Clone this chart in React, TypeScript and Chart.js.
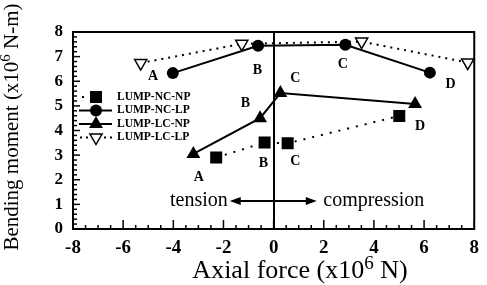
import React, { useEffect, useRef } from 'react';
import { Chart, registerables } from 'chart.js';

Chart.register(...registerables);

// ---- data ----
const seriesNames = ['LUMP-NC-NP', 'LUMP-NC-LP', 'LUMP-LC-NP', 'LUMP-LC-LP'];
const ncNpForce = [-2.29, -0.36, 0.56, 5.01];
const ncNpMoment = [2.9, 3.51, 3.48, 4.59];
const ncLpForce = [-4.02, -0.62, 2.86, 6.23];
const ncLpMoment = [6.33, 7.44, 7.48, 6.35];
const lcNpForce = [-3.2, -0.54, 0.27, 5.64];
const lcNpMoment = [3.05, 4.5, 5.52, 5.08];
const lcLpForce = [-5.3, -1.27, 3.51, 7.74];
const lcLpMoment = [6.74, 7.52, 7.61, 6.76];

// point letters (text annotations, data coordinates)
const letterText = ['A', 'B', 'C', 'D', 'A', 'B', 'C', 'D', 'B', 'C'];
const letterForce = [-4.81, -0.65, 2.76, 7.06, -2.98, -1.12, 0.86, 5.84, -0.41, 0.86];
const letterMoment = [6.2, 6.45, 6.7, 5.88, 2.08, 5.1, 6.1, 4.18, 2.65, 2.75];

// tension / compression annotation (data coordinates)
const tensionLabel = 'tension';
const compressionLabel = 'compression';
const arrowFrom = -1.75;
const arrowTo = 1.72;
const arrowMoment = 1.14;
const tensionEnd = -1.83;
const compressionStart = 1.98;

// axis titles (base text, superscript, rest)
const xTitleParts = ['Axial force (x10', '6', ' N)'];
const yTitleParts = ['Bending moment (x10', '6', ' N-m)'];

const SERIF = '"Liberation Serif", "Times New Roman", serif';

function toPts(xs: number[], ys: number[]) {
  return xs.map((x, i) => ({ x, y: ys[i] }));
}

function drawSupTitle(ctx: CanvasRenderingContext2D, parts: string[], size: number, cx: number, baseY: number) {
  const supSize = Math.round(size * 0.72);
  ctx.font = size + 'px ' + SERIF;
  const w0 = ctx.measureText(parts[0]).width;
  const w2 = ctx.measureText(parts[2]).width;
  ctx.font = supSize + 'px ' + SERIF;
  const w1 = ctx.measureText(parts[1]).width;
  const total = w0 + w1 + w2;
  let x = cx - total / 2;
  ctx.textAlign = 'left';
  ctx.textBaseline = 'alphabetic';
  ctx.font = size + 'px ' + SERIF;
  ctx.fillText(parts[0], x, baseY);
  x += w0;
  ctx.font = supSize + 'px ' + SERIF;
  ctx.fillText(parts[1], x, baseY - size * 0.36);
  x += w1;
  ctx.font = size + 'px ' + SERIF;
  ctx.fillText(parts[2], x, baseY);
}

function drawMarker(ctx: CanvasRenderingContext2D, kind: string, x: number, y: number) {
  ctx.save();
  ctx.setLineDash([]);
  ctx.lineWidth = 1.5;
  ctx.strokeStyle = '#000';
  ctx.fillStyle = '#000';
  ctx.beginPath();
  if (kind === 'rect') {
    ctx.rect(x - 6, y - 6, 12, 12);
    ctx.fill();
  } else if (kind === 'circle') {
    ctx.arc(x, y, 6, 0, Math.PI * 2);
    ctx.fill();
  } else if (kind === 'triangle') {
    const r = 8;
    ctx.moveTo(x, y - r);
    ctx.lineTo(x + r * 0.866, y + r * 0.5);
    ctx.lineTo(x - r * 0.866, y + r * 0.5);
    ctx.closePath();
    ctx.fill();
  } else {
    const r = 7;
    ctx.fillStyle = '#fff';
    ctx.moveTo(x, y + r);
    ctx.lineTo(x + r * 0.866, y - r * 0.5);
    ctx.lineTo(x - r * 0.866, y - r * 0.5);
    ctx.closePath();
    ctx.fill();
    ctx.stroke();
  }
  ctx.restore();
}

const decorPlugin = {
  id: 'decor',
  afterDraw(chart: any) {
    const ctx: CanvasRenderingContext2D = chart.ctx;
    const { left, right, top, bottom } = chart.chartArea;
    const xs = chart.scales.x;
    const ys = chart.scales.y;
    ctx.save();
    // frame
    ctx.strokeStyle = '#000';
    ctx.lineWidth = 2;
    ctx.strokeRect(left, top, right - left, bottom - top);

    // inward ticks on x axis
    ctx.lineWidth = 1.5;
    for (let v = -8; v <= 8.001; v += 0.5) {
      const px = xs.getPixelForValue(v);
      const major = Math.abs(v / 2 - Math.round(v / 2)) < 1e-6;
      ctx.beginPath();
      ctx.moveTo(px, bottom);
      ctx.lineTo(px, bottom - (major ? 9 : 4));
      ctx.stroke();
    }
    // inward ticks on y axis
    for (let v = 0; v <= 8.001; v += 0.2) {
      const py = ys.getPixelForValue(v);
      const major = Math.abs(v - Math.round(v)) < 1e-6;
      ctx.beginPath();
      ctx.moveTo(left, py);
      ctx.lineTo(left + (major ? 7 : 4), py);
      ctx.stroke();
    }

    // point letters
    ctx.fillStyle = '#000';
    ctx.font = 'bold 14px ' + SERIF;
    ctx.textAlign = 'center';
    ctx.textBaseline = 'middle';
    letterText.forEach((t, i) => {
      ctx.fillText(t, xs.getPixelForValue(letterForce[i]), ys.getPixelForValue(letterMoment[i]));
    });

    // tension / compression arrow
    const ay = ys.getPixelForValue(arrowMoment);
    const ax1 = xs.getPixelForValue(arrowFrom);
    const ax2 = xs.getPixelForValue(arrowTo);
    ctx.lineWidth = 2;
    ctx.beginPath();
    ctx.moveTo(ax1 + 8, ay);
    ctx.lineTo(ax2 - 8, ay);
    ctx.stroke();
    ctx.beginPath();
    ctx.moveTo(ax1, ay);
    ctx.lineTo(ax1 + 11, ay - 4);
    ctx.lineTo(ax1 + 11, ay + 4);
    ctx.closePath();
    ctx.fill();
    ctx.beginPath();
    ctx.moveTo(ax2, ay);
    ctx.lineTo(ax2 - 11, ay - 4);
    ctx.lineTo(ax2 - 11, ay + 4);
    ctx.closePath();
    ctx.fill();
    ctx.font = '20px ' + SERIF;
    ctx.textAlign = 'right';
    ctx.fillText(tensionLabel, xs.getPixelForValue(tensionEnd), ay);
    ctx.textAlign = 'left';
    ctx.fillText(compressionLabel, xs.getPixelForValue(compressionStart), ay);

    // legend
    const kinds = ['rect', 'circle', 'triangle', 'triangleDown'];
    const lx = 96;
    const rowY = [97, 110.5, 124, 137.5];
    ctx.font = 'bold 11.5px ' + SERIF;
    ctx.textBaseline = 'middle';
    ctx.textAlign = 'left';
    seriesNames.forEach((name, i) => {
      const y = rowY[i];
      ctx.lineWidth = 2;
      ctx.beginPath();
      if (i === 0) {
        ctx.setLineDash([2, 6]);
        ctx.moveTo(82, y);
        ctx.lineTo(90, y);
      } else if (i === 3) {
        ctx.setLineDash([2, 4]);
        ctx.moveTo(80, y);
        ctx.lineTo(112, y);
      } else {
        ctx.setLineDash([]);
        ctx.moveTo(79, y);
        ctx.lineTo(112, y);
      }
      ctx.stroke();
      ctx.setLineDash([]);
      drawMarker(ctx, kinds[i], lx, y);
      ctx.fillStyle = '#000';
      ctx.font = 'bold 11.5px ' + SERIF;
      ctx.textBaseline = 'middle';
      ctx.textAlign = 'left';
      ctx.fillText(name, 117, y);
    });

    // axis titles
    ctx.fillStyle = '#000';
    drawSupTitle(ctx, xTitleParts, 26, 300, 278);
    ctx.save();
    ctx.translate(18, 127);
    ctx.rotate(-Math.PI / 2);
    drawSupTitle(ctx, yTitleParts, 21, 0, 0);
    ctx.restore();
    ctx.restore();
  },
};

export default function App() {
  const ref = useRef<HTMLCanvasElement | null>(null);
  useEffect(() => {
    if (!ref.current) return;
    const tickFontX = { family: SERIF, size: 19, weight: 'bold' as const };
    const tickFontY = { family: SERIF, size: 17, weight: 'bold' as const };
    const chart = new Chart(ref.current, {
      type: 'scatter',
      data: {
        datasets: [
          {
            label: seriesNames[0],
            data: toPts(ncNpForce, ncNpMoment),
            showLine: true,
            borderColor: '#000',
            backgroundColor: '#000',
            borderWidth: 2,
            borderDash: [2, 7],
            pointStyle: 'rect',
            pointRadius: 8.5,
            pointBorderWidth: 0,
          },
          {
            label: seriesNames[1],
            data: toPts(ncLpForce, ncLpMoment),
            showLine: true,
            borderColor: '#000',
            backgroundColor: '#000',
            borderWidth: 2,
            pointStyle: 'circle',
            pointRadius: 6,
            pointBorderWidth: 0,
          },
          {
            label: seriesNames[2],
            data: toPts(lcNpForce, lcNpMoment),
            showLine: true,
            borderColor: '#000',
            backgroundColor: '#000',
            borderWidth: 2,
            pointStyle: 'triangle',
            pointRadius: 8,
            pointBorderWidth: 0,
          },
          {
            label: seriesNames[3],
            data: toPts(lcLpForce, lcLpMoment),
            showLine: true,
            borderColor: '#000',
            backgroundColor: '#fff',
            borderWidth: 2,
            borderDash: [2, 5],
            pointStyle: 'triangle',
            pointRotation: 180,
            pointRadius: 7,
            pointBorderWidth: 1.5,
            pointBorderColor: '#000',
            pointBackgroundColor: '#fff',
          },
        ],
      },
      options: {
        animation: false,
        responsive: false,
        devicePixelRatio: 1,
        layout: { padding: { top: 32, right: 7, left: 0, bottom: 0 } },
        plugins: { legend: { display: false }, tooltip: { enabled: false } },
        scales: {
          x: {
            type: 'linear',
            min: -8,
            max: 8,
            ticks: { stepSize: 2, color: '#000', font: tickFontX, padding: 8 },
            grid: {
              drawTicks: false,
              lineWidth: 2,
              color: (c: any) => (c.tick && c.tick.value === 0 ? '#000' : 'rgba(0,0,0,0)'),
            },
            border: { color: '#000', width: 2 },
            title: { display: false },
            afterFit: (s: any) => {
              s.height = 56;
            },
          },
          y: {
            type: 'linear',
            min: 0,
            max: 8,
            ticks: { stepSize: 1, color: '#000', font: tickFontY, padding: 10 },
            grid: { drawTicks: false, display: true, color: 'rgba(0,0,0,0)' },
            border: { color: '#000', width: 2 },
            title: { display: false },
            afterFit: (s: any) => {
              s.width = 73;
            },
          },
        },
      },
      plugins: [decorPlugin],
    });
    return () => chart.destroy();
  }, []);
  return (
    <div style={{ position: 'absolute', left: 0, top: 0, width: 487, height: 285, background: '#fff' }}>
      <canvas ref={ref} width={487} height={285} />
    </div>
  );
}
